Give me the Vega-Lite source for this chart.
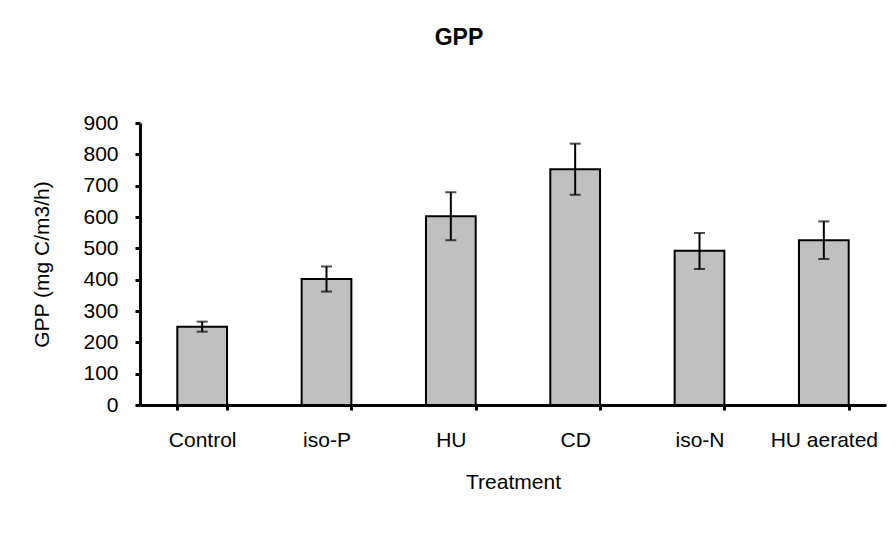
{
  "$schema": "https://vega.github.io/schema/vega-lite/v6.json",
  "autosize": "none",
  "width": 746,
  "height": 282,
  "padding": {"left": 140, "top": 123, "right": 10, "bottom": 131},
  "background": "white",
  "title": {"text": "GPP", "anchor": "middle", "frame": "bounds", "font": "Liberation Sans", "fontSize": 23, "fontWeight": "bold", "color": "black", "offset": 62},
  "config": {
    "view": {"stroke": null},
    "font": "Liberation Sans",
    "axis": {"grid": false, "labelFont": "Liberation Sans", "titleFont": "Liberation Sans", "labelFontSize": 21, "titleFontSize": 21, "labelColor": "black", "titleColor": "black", "titleFontWeight": "normal", "domainColor": "black", "domainWidth": 3, "tickColor": "black", "tickWidth": 3, "tickSize": 5, "labelOverlap": false, "labelFlush": false}
  },
  "data": {"values": [
    {"treatment": "Control", "gpp": 250, "lo": 234, "hi": 266},
    {"treatment": "iso-P", "gpp": 402, "lo": 362, "hi": 442},
    {"treatment": "HU", "gpp": 602, "lo": 526, "hi": 679},
    {"treatment": "CD", "gpp": 752, "lo": 671, "hi": 834},
    {"treatment": "iso-N", "gpp": 492, "lo": 434, "hi": 549},
    {"treatment": "HU aerated", "gpp": 526, "lo": 466, "hi": 586}
  ]},
  "encoding": {
    "x": {"field": "treatment", "type": "nominal", "sort": null,
      "scale": {"paddingInner": 0.6, "paddingOuter": 0.3},
      "axis": {"title": "Treatment", "labelAngle": 0, "tickBand": "extent", "labelPadding": 19, "titlePadding": 21, "labelOverlap": false}}
  },
  "layer": [
    {"mark": {"type": "bar", "fill": "#c0c0c0", "stroke": "black", "strokeWidth": 2},
     "encoding": {"y": {"field": "gpp", "type": "quantitative", "scale": {"domain": [0, 900], "nice": false},
       "axis": {"title": "GPP (mg C/m3/h)", "values": [0,100,200,300,400,500,600,700,800,900], "tickCount": 10, "labelPadding": 17, "titlePadding": 30, "labelOverlap": false}}}},
    {"mark": {"type": "rule", "color": "black", "strokeWidth": 2},
     "encoding": {"y": {"field": "lo", "type": "quantitative",
       "axis": {"title": "GPP (mg C/m3/h)", "values": [0,100,200,300,400,500,600,700,800,900], "tickCount": 10, "labelPadding": 17, "titlePadding": 30, "labelOverlap": false}}, "y2": {"field": "hi"}}},
    {"mark": {"type": "tick", "color": "black", "thickness": 2, "size": 11},
     "encoding": {"y": {"field": "lo", "type": "quantitative",
       "axis": {"title": "GPP (mg C/m3/h)", "values": [0,100,200,300,400,500,600,700,800,900], "tickCount": 10, "labelPadding": 17, "titlePadding": 30, "labelOverlap": false}}}},
    {"mark": {"type": "tick", "color": "black", "thickness": 2, "size": 11},
     "encoding": {"y": {"field": "hi", "type": "quantitative",
       "axis": {"title": "GPP (mg C/m3/h)", "values": [0,100,200,300,400,500,600,700,800,900], "tickCount": 10, "labelPadding": 17, "titlePadding": 30, "labelOverlap": false}}}}
  ]
}
